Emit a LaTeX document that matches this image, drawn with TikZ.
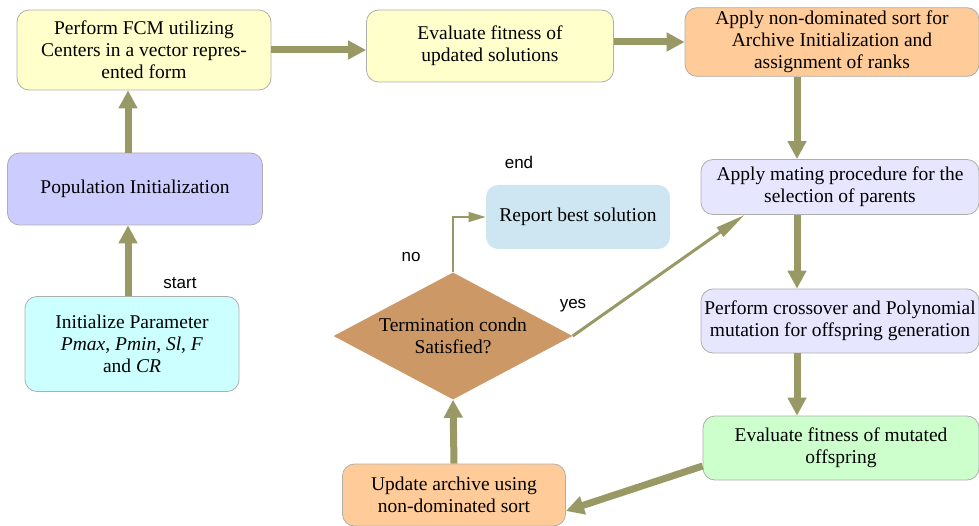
\documentclass[tikz,border=0pt]{standalone}
\usepackage{fontspec}
\setmainfont{Liberation Serif}
\newfontfamily\labelfont{Liberation Sans}
\usepackage{tikz}
\usetikzlibrary{shapes.geometric, arrows.meta}
\definecolor{flowolive}{RGB}{153,153,102}
\definecolor{boxgray}{RGB}{175,175,170}
\definecolor{paleyellow}{RGB}{255,255,204}
\definecolor{palelilac}{RGB}{204,204,255}
\definecolor{palecyan}{RGB}{204,255,255}
\definecolor{paleorange}{RGB}{255,204,153}
\definecolor{palelavender}{RGB}{230,230,255}
\definecolor{palegreen}{RGB}{204,255,204}
\definecolor{paleblue}{RGB}{206,229,242}
\definecolor{claybrown}{RGB}{204,153,102}
\tikzstyle{process} = [rectangle, 
rounded corners=12pt, 
align=center, 
inner xsep=3pt, 
draw=boxgray, 
line width=0.8pt]
\tikzstyle{decision} = [diamond, 
aspect=1.88, 
inner sep=0pt, 
align=center, 
fill=claybrown]
\tikzstyle{tag} = [font=\labelfont\fontsize{17}{20}\selectfont]
\tikzstyle{flow} = [draw=flowolive, line width=7pt, 
-{Triangle[width=18pt, length=18pt]}]
\tikzstyle{thinflow} = [draw=flowolive, line width=1.2pt, 
-{Triangle[width=10pt, length=17pt]}]
\tikzstyle{yesflow} = [draw=flowolive, line width=3pt, 
-{Triangle[width=11pt, length=30pt]}]

\begin{document}
\begin{tikzpicture}[x=1pt, y=1pt, node distance=100pt]
\tikzstyle{every node}=[font=\fontsize{19.5}{22}\selectfont]
\useasboundingbox (0,0) rectangle (979,-526);
\node (fcm) [process, fill=paleyellow, minimum width=254pt, minimum height=80pt] at (144,-50) {Perform FCM utilizing\\Centers in a vector repres-\\ented form};
\node (popinit) [process, fill=palelilac, minimum width=255pt, minimum height=72pt, below of=fcm, xshift=-9pt, yshift=-39pt] {Population Initialization};
\node (initparam) [process, fill=palecyan, minimum width=214pt, minimum height=95pt, below of=popinit, xshift=-3pt, yshift=-55pt] {Initialize Parameter\\\textit{Pmax}, \textit{Pmin}, \textit{Sl}, \textit{F}\\and \textit{CR}};
\node (evalsol) [process, fill=paleyellow, minimum width=247pt, minimum height=72pt, right of=fcm, xshift=246pt, yshift=4pt] {Evaluate fitness of\\updated solutions};
\node (ndsort) [process, fill=paleorange, minimum width=294pt, minimum height=64pt, right of=evalsol, xshift=242pt, yshift=4pt] {Apply non-dominated sort for\\Archive Initialization and\\assignment of ranks};
\node (mating) [process, fill=palelavender, minimum width=278pt, minimum height=55pt, below of=ndsort, xshift=8pt, yshift=-45pt] {Apply mating procedure for the\\selection of parents};
\node (crossover) [process, fill=palelavender, minimum width=278pt, minimum height=64pt, below of=mating, yshift=-34pt] {Perform crossover and Polynomial\\mutation for offspring generation};
\node (evalmut) [process, fill=palegreen, minimum width=276pt, minimum height=64pt, below of=crossover, xshift=1pt, yshift=-27pt] {Evaluate fitness of mutated\\offspring};
\node (update) [process, fill=paleorange, minimum width=223pt, minimum height=62pt, left of=evalmut, xshift=-287pt, yshift=-47pt] {Update archive using\\non-dominated sort};
\node (termcond) [decision, minimum width=239pt, minimum height=127pt, above of=update, xshift=-1pt, yshift=59pt] {Termination condn\\Satisfied?};
\node (report) [process, draw=none, fill=paleblue, minimum width=184pt, minimum height=64pt, above of=termcond, xshift=125pt, yshift=19pt] {Report best solution};

% loose labels
\node (starttxt) [tag, above of=initparam, xshift=48pt, yshift=-39pt] {start};
\node (endtxt) [tag, above of=report, xshift=-59pt, yshift=-45pt] {end};
\node (notxt) [tag, above of=termcond, xshift=-42pt, yshift=-21pt] {no};
\node (yestxt) [tag, right of=termcond, xshift=20pt, yshift=30pt] {yes};

\draw [flow] ([xshift=-4pt]initparam.north) -- ([xshift=-4pt]initparam.north |- popinit.south);
\draw [flow] ([xshift=-7pt]popinit.north) -- ([xshift=-7pt]popinit.north |- fcm.south);
\draw [flow] (fcm.east) -- (fcm.east -| evalsol.west);
\draw [flow] (ndsort.west -| evalsol.east) -- (ndsort.west);
\draw [flow] ([xshift=-35pt]ndsort.south) -- ([xshift=-35pt]ndsort.south |- mating.north);
\draw [flow] ([xshift=-43pt]mating.south) -- ([xshift=-43pt]mating.south |- crossover.north);
\draw [flow] ([xshift=-43pt]crossover.south) -- ([xshift=-43pt]crossover.south |- evalmut.north);
\draw [flow] ([yshift=-18pt]evalmut.west) -- ([yshift=-16pt]update.east);
\draw [flow] (update.north) -- (termcond.south);
\draw [thinflow] (termcond.north) |- (report.west);
\draw [yesflow] (termcond.east) -- ([xshift=44pt]mating.south west);
\end{tikzpicture}
\end{document}
